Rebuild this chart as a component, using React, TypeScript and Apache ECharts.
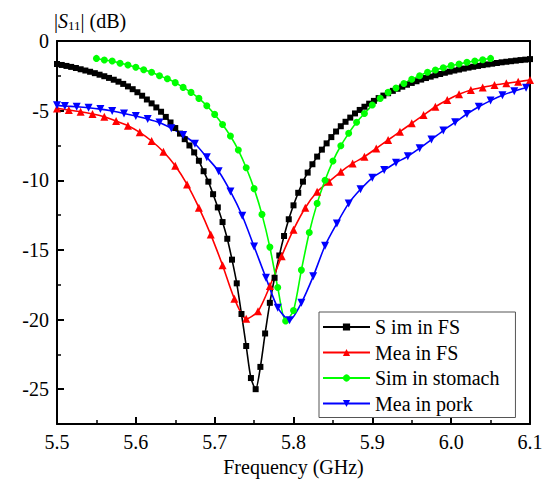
import React, { useEffect, useRef } from 'react';
import * as echarts from 'echarts';

const FONT = 'Liberation Serif';

const xTickLabels = ['5.5', '5.6', '5.7', '5.8', '5.9', '6.0', '6.1'];
const yMajorTicks = [0, -5, -10, -15, -20, -25];
const yMinorTicks = [-2.5, -7.5, -12.5, -17.5, -22.5];

const seriesNames = ['S im in FS', 'Mea in FS', 'Sim in stomach', 'Mea in pork'];

const simFsFreq = [
  5.500, 5.506, 5.512, 5.518, 5.524, 5.530, 5.536, 5.542, 5.548, 5.554,
  5.560, 5.566, 5.572, 5.578, 5.584, 5.590, 5.596, 5.602, 5.608, 5.614,
  5.620, 5.626, 5.632, 5.638, 5.644, 5.650, 5.656, 5.662, 5.668, 5.674,
  5.680, 5.686, 5.692, 5.698, 5.704, 5.710, 5.716, 5.722, 5.728, 5.734,
  5.740, 5.746, 5.752, 5.758, 5.764, 5.770, 5.776, 5.782, 5.788, 5.794,
  5.800, 5.806, 5.812, 5.818, 5.824, 5.830, 5.836, 5.842, 5.848, 5.854,
  5.860, 5.866, 5.872, 5.878, 5.884, 5.890, 5.896, 5.902, 5.908, 5.914,
  5.920, 5.926, 5.932, 5.938, 5.944, 5.950, 5.956, 5.962, 5.968, 5.974,
  5.980, 5.986, 5.992, 5.998, 6.004, 6.010, 6.016, 6.022, 6.028, 6.034,
  6.040, 6.046, 6.052, 6.058, 6.064, 6.070, 6.076, 6.082, 6.088, 6.094,
  6.100,
];
const simFsS11 = [
  -1.65, -1.72, -1.79, -1.86, -1.94, -2.03, -2.12, -2.21, -2.31, -2.42,
  -2.53, -2.65, -2.78, -2.92, -3.08, -3.26, -3.46, -3.68, -3.93, -4.20,
  -4.48, -4.77, -5.08, -5.45, -5.85, -6.25, -6.65, -7.05, -7.50, -8.00,
  -8.60, -9.35, -10.1, -11.0, -11.95, -13.0, -14.2, -15.7, -17.4, -19.6,
  -21.9, -24.2, -25.0, -23.4, -21.0, -18.8, -17.0, -15.4, -14.0, -12.8,
  -11.8, -10.9, -10.1, -9.45, -8.85, -8.30, -7.80, -7.35, -6.90, -6.50,
  -6.12, -5.80, -5.50, -5.20, -4.95, -4.72, -4.50, -4.30, -4.10, -3.92,
  -3.75, -3.58, -3.43, -3.28, -3.14, -3.01, -2.89, -2.77, -2.66, -2.56,
  -2.46, -2.37, -2.28, -2.20, -2.12, -2.05, -1.98, -1.91, -1.85, -1.79,
  -1.73, -1.68, -1.63, -1.58, -1.53, -1.49, -1.45, -1.41, -1.37, -1.34,
  -1.30,
];

const meaFsFreq = [
  5.500, 5.515, 5.530, 5.545, 5.560, 5.575, 5.590, 5.605, 5.620, 5.635,
  5.650, 5.665, 5.680, 5.695, 5.710, 5.725, 5.740, 5.755, 5.770, 5.785,
  5.800, 5.815, 5.830, 5.845, 5.860, 5.875, 5.890, 5.905, 5.920, 5.935,
  5.950, 5.965, 5.980, 5.995, 6.010, 6.025, 6.040, 6.055, 6.070, 6.085,
  6.100,
];
const meaFsS11 = [
  -4.84, -4.96, -5.08, -5.24, -5.44, -5.75, -6.08, -6.56, -7.18, -7.95,
  -8.96, -10.3, -11.97, -13.9, -16.1, -18.5, -19.95, -19.4, -17.6, -15.45,
  -13.55, -11.97, -10.83, -10.1, -9.39, -8.79, -8.31, -7.71, -7.11, -6.51,
  -5.91, -5.32, -4.72, -4.24, -3.83, -3.52, -3.33, -3.16, -3.04, -2.92,
  -2.80,
];

const simStomachFreq = [
  5.55, 5.56, 5.57, 5.58, 5.59, 5.60, 5.61, 5.62, 5.63, 5.64,
  5.65, 5.66, 5.67, 5.68, 5.69, 5.70, 5.71, 5.72, 5.73, 5.74,
  5.75, 5.76, 5.77, 5.78, 5.79, 5.80, 5.81, 5.82, 5.83, 5.84,
  5.85, 5.86, 5.87, 5.88, 5.89, 5.90, 5.91, 5.92, 5.93, 5.94,
  5.95, 5.96, 5.97, 5.98, 5.99, 6.00, 6.01, 6.02, 6.03, 6.04,
  6.05,
];
const simStomachS11 = [
  -1.25, -1.37, -1.44, -1.60, -1.72, -1.89, -2.06, -2.25, -2.49, -2.71,
  -2.99, -3.33, -3.69, -4.12, -4.65, -5.27, -5.99, -6.82, -7.83, -9.10,
  -10.6, -12.45, -14.8, -17.7, -20.1, -19.35, -16.45, -13.75, -11.66, -10.0,
  -8.62, -7.52, -6.63, -5.84, -5.20, -4.60, -4.12, -3.69, -3.38, -3.05,
  -2.75, -2.49, -2.25, -2.08, -1.92, -1.77, -1.65, -1.53, -1.44, -1.34,
  -1.25,
];

const meaPorkFreq = [
  5.500, 5.510, 5.525, 5.540, 5.555, 5.570, 5.585, 5.600, 5.615, 5.630,
  5.645, 5.660, 5.675, 5.690, 5.705, 5.720, 5.735, 5.750, 5.765, 5.780,
  5.795, 5.810, 5.825, 5.840, 5.855, 5.870, 5.885, 5.900, 5.915, 5.930,
  5.945, 5.960, 5.975, 5.990, 6.005, 6.020, 6.035, 6.050, 6.065, 6.080,
  6.095,
];
const meaPorkS11 = [
  -4.62, -4.67, -4.72, -4.79, -4.89, -5.03, -5.20, -5.39, -5.60, -5.86,
  -6.27, -6.75, -7.38, -8.35, -9.35, -10.8, -12.55, -14.75, -17.0, -19.15,
  -20.05, -18.8, -16.9, -14.7, -13.1, -11.66, -10.65, -9.82, -9.27, -8.74,
  -8.28, -7.70, -7.08, -6.43, -5.84, -5.24, -4.72, -4.28, -3.90, -3.60,
  -3.36,
];

const zip = (xs: number[], ys: number[]) => xs.map((x, i) => [x, ys[i]]);

const DOWN_TRIANGLE = 'path://M0,0L10,0L5,9Z';

const FONT_CSS =
  '.s11-chart svg text, .s11-chart svg tspan { font-family: "Liberation Serif", "Times New Roman", serif !important; }';

export default function App() {
  const ref = useRef<HTMLDivElement>(null);

  useEffect(() => {
    if (!ref.current) return;
    const chart = echarts.init(ref.current, null, { renderer: 'svg' });

    const axisLineStyle = { color: '#000', width: 2 };

    const line = (
      name: string,
      data: number[][],
      color: string,
      symbol: string,
      symbolSize: number
    ) => ({
      name,
      type: 'line',
      data,
      symbol,
      symbolSize,
      showAllSymbol: true,
      smooth: 0.25,
      lineStyle: { color, width: 1.6 },
      itemStyle: { color, borderWidth: 0 },
      xAxisIndex: 0,
      yAxisIndex: 0,
      emphasis: { disabled: true },
    });

    chart.setOption({
      animation: false,
      backgroundColor: '#fff',
      grid: { left: 57, right: 20, top: 41, bottom: 63 },
      xAxis: [
        {
          type: 'value',
          position: 'bottom',
          min: 5.5,
          max: 6.1,
          interval: 0.1,
          axisLine: { show: true, onZero: false, lineStyle: axisLineStyle },
          axisTick: { show: true, inside: true, length: 7, lineStyle: { color: '#000', width: 2 } },
          minorTick: { show: true, splitNumber: 2, length: 4, lineStyle: { color: '#000', width: 1.5 } },
          axisLabel: {
            fontSize: 20,
            fontFamily: FONT,
            color: '#000',
            margin: 8,
            formatter: (v: number) => {
              const idx = Math.round((v - 5.5) / 0.1);
              return xTickLabels[idx] ?? v.toFixed(1);
            },
          },
          splitLine: { show: false },
          name: 'Frequency (GHz)',
          nameLocation: 'middle',
          nameGap: 33,
          nameTextStyle: { fontSize: 20, fontFamily: FONT, color: '#000' },
        },
        {
          type: 'value',
          position: 'top',
          min: 5.5,
          max: 6.1,
          axisLine: { show: true, onZero: false, lineStyle: axisLineStyle },
          axisTick: { show: false },
          axisLabel: { show: false },
          splitLine: { show: false },
        },
      ],
      yAxis: [
        {
          type: 'value',
          position: 'left',
          min: -27.5,
          max: 0,
          axisLine: { show: true, onZero: false, lineStyle: axisLineStyle },
          axisTick: {
            show: true,
            inside: true,
            length: 7,
            customValues: yMajorTicks,
            lineStyle: { color: '#000', width: 2 },
          },
          axisLabel: {
            fontSize: 20,
            fontFamily: FONT,
            color: '#000',
            margin: 8,
            customValues: yMajorTicks,
            formatter: (v: number) => String(v),
          },
          splitLine: { show: false },
        },
        {
          type: 'value',
          position: 'left',
          min: -27.5,
          max: 0,
          axisLine: { show: false },
          axisTick: {
            show: true,
            inside: true,
            length: 4,
            customValues: yMinorTicks,
            lineStyle: { color: '#000', width: 1.5 },
          },
          axisLabel: { show: false },
          splitLine: { show: false },
        },
        {
          type: 'value',
          position: 'right',
          min: -27.5,
          max: 0,
          axisLine: { show: true, onZero: false, lineStyle: axisLineStyle },
          axisTick: { show: false },
          axisLabel: { show: false },
          splitLine: { show: false },
        },
      ],
      legend: {
        show: true,
        orient: 'vertical',
        left: 319,
        top: 312,
        itemWidth: 47,
        itemHeight: 9,
        itemGap: 5.5,
        itemTextGap: 6,
        padding: [5, 16, 4, 3],
        backgroundColor: '#fff',
        borderColor: '#555',
        borderWidth: 1,
        borderRadius: 0,
        textStyle: { fontSize: 20, color: '#000', fontFamily: FONT, lineHeight: 20 },
        data: seriesNames,
      },
      graphic: [
        {
          type: 'text',
          x: 54,
          y: 21,
          style: {
            text: '{b||}{i|S}{sub|11}{b|| (dB)}',
            verticalAlign: 'middle',
            fill: '#000',
            fontSize: 20,
            fontFamily: FONT,
            rich: {
              b: { fontSize: 20, fontFamily: FONT, fill: '#000', lineHeight: 22 },
              i: { fontSize: 20, fontFamily: FONT, fontStyle: 'italic', fill: '#000', lineHeight: 22 },
              sub: { fontSize: 13, fontFamily: FONT, fill: '#000', lineHeight: 13, verticalAlign: 'bottom' },
            },
          },
        },
      ],
      series: [
        line(seriesNames[0], zip(simFsFreq, simFsS11), '#000000', 'rect', 6),
        line(seriesNames[1], zip(meaFsFreq, meaFsS11), '#ff0000', 'triangle', 8),
        line(seriesNames[2], zip(simStomachFreq, simStomachS11), '#00ff00', 'circle', 7),
        line(seriesNames[3], zip(meaPorkFreq, meaPorkS11), '#0000ff', DOWN_TRIANGLE, 8),
      ],
    });

    return () => chart.dispose();
  }, []);

  return (
    <>
      <style>{FONT_CSS}</style>
      <div
        ref={ref}
        className="s11-chart"
        style={{ position: 'absolute', left: 0, top: 0, width: 550, height: 487 }}
      />
    </>
  );
}
